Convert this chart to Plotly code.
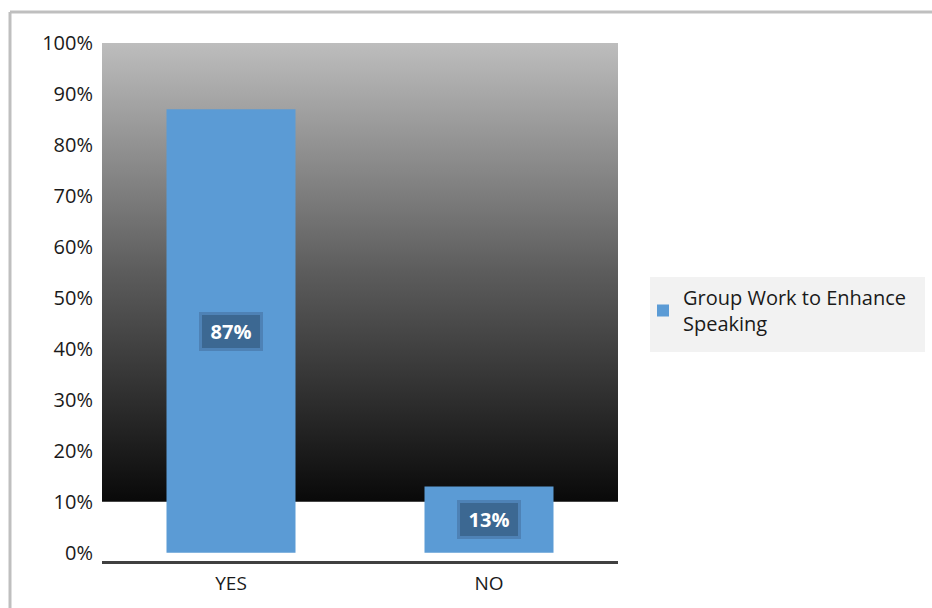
import plotly.graph_objects as go

# Survey result: share of respondents per answer
categories = ["YES", "NO"]
values = [87, 13]
series_name = "Group Work to Enhance<br>Speaking"
tick_values = [0, 10, 20, 30, 40, 50, 60, 70, 80, 90, 100]
tick_labels = [f"{v}%" for v in tick_values]

W, H = 932, 608
M_L, M_R, M_T, M_B = 102, 314, 43, 47
FONT = "Open Sans, Liberation Sans, sans-serif"
BAR_BLUE = "#5b9bd5"
Y_RANGE = [-1.6, 100]

x_pos = list(range(len(categories)))
x_range = [-0.5, len(categories) - 0.5]

fig = go.Figure()

# shaded backdrop from the 10% line up to the top of the value axis (base axes)
fig.add_trace(go.Scatter(
    x=[x_range[0], x_range[1], x_range[1], x_range[0], x_range[0]],
    y=[tick_values[1], tick_values[1], tick_values[-1], tick_values[-1], tick_values[1]],
    mode="lines",
    line=dict(width=0),
    fill="toself",
    fillgradient=dict(type="vertical",
                      colorscale=[[0, "#090909"], [0.5, "#5c5c5c"], [1, "#bdbdbd"]]),
    hoverinfo="skip",
    showlegend=False,
    xaxis="x", yaxis="y",
))

# bars live on overlaid axes so they are painted above the backdrop
fig.add_trace(go.Bar(
    x=x_pos,
    y=values,
    name=series_name,
    marker=dict(color=BAR_BLUE, line=dict(width=0)),
    width=0.5,
    showlegend=True,
    xaxis="x2", yaxis="y2",
))

# value labels in darker boxes at the middle of each bar
for xp, v in zip(x_pos, values):
    fig.add_annotation(
        x=xp, y=v / 2, xref="x2", yref="y2",
        text=f"<b>{v}%</b>",
        showarrow=False,
        font=dict(family=FONT, size=20, color="white"),
        bgcolor="#3c6892",
        bordercolor="#4e82b6",
        borderwidth=3,
        borderpad=3,
        width=52,
    )

plot_w = W - M_L - M_R
plot_h = H - M_T - M_B

# outer chart frame: top and left edges
fx0 = (10 - M_L) / plot_w
fy_top = (H - 12 - M_B) / plot_h
fy_bot = (0 - M_B) / plot_h
fx1 = (W - M_L) / plot_w
fig.add_shape(type="line", xref="paper", yref="paper",
              x0=fx0, x1=fx1, y0=fy_top, y1=fy_top,
              line=dict(color="#bfbfbf", width=3))
fig.add_shape(type="line", xref="paper", yref="paper",
              x0=fx0, x1=fx0, y0=fy_top, y1=fy_bot,
              line=dict(color="#bfbfbf", width=3))

# legend background panel
lx0 = (650 - M_L) / plot_w
lx1 = (925 - M_L) / plot_w
ly0 = (H - 352 - M_B) / plot_h
ly1 = (H - 277 - M_B) / plot_h
fig.add_shape(type="rect", xref="paper", yref="paper",
              x0=lx0, x1=lx1, y0=ly0, y1=ly1,
              fillcolor="#f2f2f2", line=dict(width=0), layer="below")

axis_common = dict(showgrid=False, zeroline=False, fixedrange=True)

fig.update_layout(
    width=W, height=H,
    margin=dict(l=M_L, r=M_R, t=M_T, b=M_B),
    paper_bgcolor="white",
    plot_bgcolor="white",
    font=dict(family=FONT, size=20, color="#1a1a1a"),
    showlegend=True,
    legend=dict(
        x=(643 - M_L) / plot_w, y=(H - 278 - M_B) / plot_h,
        xanchor="left", yanchor="top",
        bgcolor="rgba(0,0,0,0)",
        font=dict(family=FONT, size=20, color="#1a1a1a"),
        itemwidth=30,
    ),
    xaxis=dict(
        range=x_range,
        tickvals=x_pos, ticktext=categories,
        showline=True, linecolor="#404040", linewidth=3,
        ticks="", ticklabelstandoff=3, tickfont=dict(size=19),
        **axis_common,
    ),
    yaxis=dict(
        range=Y_RANGE,
        tickvals=tick_values, ticktext=tick_labels,
        showline=False,
        ticks="", ticklabelstandoff=8,
        tickfont=dict(size=20),
        **axis_common,
    ),
    xaxis2=dict(range=x_range, overlaying="x", visible=False, **axis_common),
    yaxis2=dict(range=Y_RANGE, overlaying="y", visible=False, **axis_common),
)

fig.write_html("out.html")
